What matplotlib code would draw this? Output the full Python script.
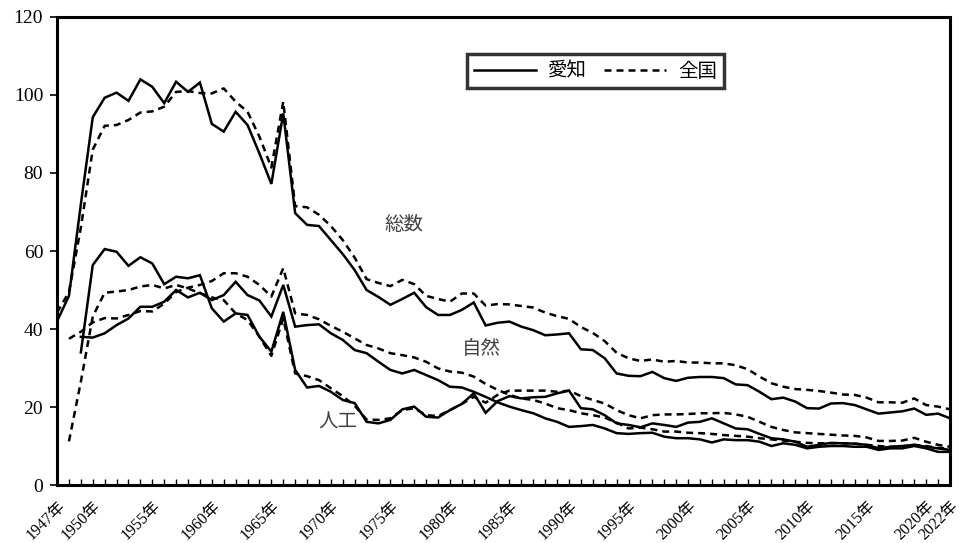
import numpy as np
import matplotlib
matplotlib.use("Agg")
import matplotlib.pyplot as plt

# -------------------------------------------------------------------------
# Data
# -------------------------------------------------------------------------
years = list(range(1947, 2023))
NA = np.nan

aichi_total = [42.0, 48.5, 72.0, 94.3, 99.3, 100.6, 98.5, 104.0, 102.1, 97.9,
               103.4, 100.8, 103.2, 92.6, 90.6, 95.7, 92.3, 85.0, 77.2, 95.3,
               69.7, 66.7, 66.4, 62.8, 59.2, 55.1, 50.0, 48.2, 46.2, 47.7,
               49.3, 45.6, 43.6, 43.6, 44.9, 46.8, 40.9, 41.6, 41.9, 40.6,
               39.7, 38.4, 38.6, 38.9, 34.8, 34.6, 32.5, 28.6, 28.0, 27.9,
               29.0, 27.4, 26.7, 27.5, 27.7, 27.7, 27.4, 25.8, 25.6, 23.9,
               22.0, 22.4, 21.4, 19.7, 19.6, 20.9, 21.0, 20.5, 19.4, 18.3,
               18.6, 18.9, 19.6, 18.0, 18.3, 17.1]

nat_total = [44.2, 49.5, 66.0, 86.0, 92.1, 92.3, 93.6, 95.5, 95.8, 97.0,
             100.8, 101.0, 100.5, 100.4, 101.7, 98.3, 95.7, 89.3, 81.4, 98.3,
             71.5, 71.2, 69.3, 66.4, 62.8, 58.3, 52.8, 51.8, 51.0, 52.6,
             51.5, 48.5, 47.7, 47.0, 49.1, 49.1, 46.0, 46.4, 46.3, 45.9,
             45.5, 44.2, 43.3, 42.6, 40.5, 39.0, 36.9, 33.9, 32.5, 31.8,
             32.2, 31.6, 31.8, 31.4, 31.4, 31.2, 31.2, 30.7, 29.7, 27.8,
             26.1, 25.2, 24.6, 24.4, 24.1, 23.7, 23.2, 23.1, 22.4, 21.2,
             21.2, 21.1, 22.2, 20.5, 20.1, 19.4]

aichi_nat = [NA, NA, 38.0, 37.8, 38.9, 41.0, 42.7, 45.7, 45.7, 47.0,
             50.0, 48.1, 49.3, 47.4, 48.7, 52.1, 48.7, 47.3, 43.2, 51.3,
             40.6, 41.0, 41.2, 38.9, 37.2, 34.6, 33.8, 31.6, 29.5, 28.6,
             29.5, 28.2, 26.9, 25.2, 25.0, 23.9, 22.6, 21.2, 20.1, 19.2,
             18.4, 17.1, 16.2, 14.9, 15.1, 15.4, 14.5, 13.3, 13.1, 13.3,
             13.4, 12.4, 12.0, 12.0, 11.7, 10.9, 11.7, 11.5, 11.5, 11.1,
             10.0, 10.7, 10.3, 9.4, 9.8, 10.0, 10.0, 9.8, 9.8, 9.0,
             9.4, 9.4, 10.0, 9.4, 8.5, 8.5]

aichi_art = [NA, NA, 34.0, 56.4, 60.5, 59.8, 56.2, 58.4, 56.8, 51.5,
             53.4, 53.0, 53.8, 45.3, 41.9, 44.0, 43.6, 38.0, 34.2, 44.4,
             29.5, 25.0, 25.4, 23.9, 21.8, 21.0, 16.2, 15.8, 16.7, 19.4,
             20.1, 17.5, 17.3, 19.2, 20.8, 23.5, 18.5, 21.5, 22.8, 22.2,
             22.5, 22.6, 23.5, 24.2, 19.7, 19.4, 17.9, 15.8, 15.4, 14.8,
             15.8, 15.4, 14.9, 16.0, 16.2, 17.1, 15.8, 14.5, 14.3, 13.1,
             12.0, 11.7, 11.1, 9.8, 10.3, 10.8, 10.7, 10.6, 10.3, 9.4,
             9.8, 10.0, 10.3, 9.8, 9.4, 9.0]

nat_nat = [NA, 37.5, 39.3, 41.7, 42.8, 42.7, 43.6, 44.6, 44.5, 46.5,
           49.5, 50.6, 51.3, 52.3, 54.3, 54.3, 53.4, 51.3, 48.3, 55.6,
           44.0, 43.6, 42.5, 40.8, 39.3, 37.6, 35.9, 35.0, 33.8, 33.3,
           32.7, 31.6, 29.9, 29.1, 28.8, 27.8, 25.9, 24.4, 23.1, 22.2,
           21.8, 20.9, 19.7, 19.2, 18.4, 17.9, 17.3, 16.0, 14.5, 14.7,
           14.3, 13.7, 13.7, 13.4, 13.3, 13.1, 12.8, 12.6, 12.4, 12.0,
           11.7, 11.4, 11.1, 10.8, 10.7, 10.7, 10.7, 10.6, 10.3, 10.0,
           9.8, 9.8, 10.3, 10.0, 9.5, 9.4]

nat_art = [NA, 11.2, 26.5, 43.2, 49.3, 49.6, 50.0, 50.9, 51.3, 50.4,
           51.3, 50.4, 49.2, 48.1, 47.4, 44.0, 42.3, 38.0, 33.1, 42.7,
           28.6, 27.9, 26.9, 24.8, 22.8, 20.3, 16.8, 16.7, 17.1, 19.2,
           19.7, 17.9, 17.7, 19.2, 20.8, 22.6, 21.1, 23.1, 24.2, 24.2,
           24.2, 24.2, 23.9, 24.2, 22.8, 21.8, 20.9, 19.2, 17.9, 17.1,
           17.9, 18.1, 18.1, 18.2, 18.4, 18.4, 18.5, 18.1, 17.5, 16.2,
           14.9, 14.1, 13.5, 13.3, 13.1, 12.9, 12.7, 12.6, 12.2, 11.3,
           11.3, 11.4, 12.1, 11.1, 10.3, 9.8]

label_years = [1947, 1950, 1955, 1960, 1965, 1970, 1975, 1980, 1985, 1990,
               1995, 2000, 2005, 2010, 2015, 2020, 2022]

# -------------------------------------------------------------------------
# Plot
# -------------------------------------------------------------------------
FONTS = ['Liberation Serif', 'Noto Sans CJK JP']
plt.rcParams['font.family'] = FONTS
plt.rcParams['axes.unicode_minus'] = False

fig = plt.figure(figsize=(9.62, 5.43), dpi=100)
ax = fig.add_axes([0.0593, 0.1068, 0.9282, 0.8619])

LW = 1.8
DASH = (0, (2.8, 2.0))

for solid, dashed in [(aichi_total, nat_total), (aichi_nat, nat_nat), (aichi_art, nat_art)]:
    ax.plot(years, solid, color='black', lw=LW, solid_joinstyle='miter')
    ax.plot(years, dashed, color='black', lw=LW, linestyle=DASH)

ax.set_xlim(1947, 2022)
ax.set_ylim(0, 120)
ax.set_yticks(range(0, 121, 20))
ax.set_xticks(years, minor=True)
ax.set_xticks(label_years)
ax.set_xticklabels([f"{y}年" for y in label_years], rotation=45, ha='right',
                   va='top', rotation_mode='anchor', fontsize=11.5)
ax.tick_params(axis='y', labelsize=14, direction='out', length=5, width=1.2, pad=5)
ax.tick_params(axis='x', which='both', direction='in', length=4, width=1.0, pad=9)

for sp in ax.spines.values():
    sp.set_linewidth(2.2)

# series group labels
ax.text(1976.1, 66.7, "総数", fontsize=14, color='#404040', ha='center', va='center',
        family='Noto Sans CJK JP')
ax.text(1982.6, 34.9, "自然", fontsize=14, color='#404040', ha='center', va='center',
        family='Noto Sans CJK JP')
ax.text(1970.6, 16.2, "人工", fontsize=14, color='#404040', ha='center', va='center',
        family='Noto Sans CJK JP')

# legend
h1, = ax.plot([], [], color='black', lw=LW)
h2, = ax.plot([], [], color='black', lw=LW, linestyle=DASH)
leg = fig.legend([h1, h2], ["愛知", "全国"], ncol=2, loc='center',
                 bbox_to_anchor=(0.619, 0.869), frameon=True, fancybox=False,
                 edgecolor='black', handlelength=3.2, handletextpad=0.6,
                 columnspacing=0.9, borderpad=0.35, prop={'family': 'Noto Sans CJK JP', 'size': 14})
leg.get_frame().set_linewidth(2.5)

fig.savefig("out.png", dpi=100)
